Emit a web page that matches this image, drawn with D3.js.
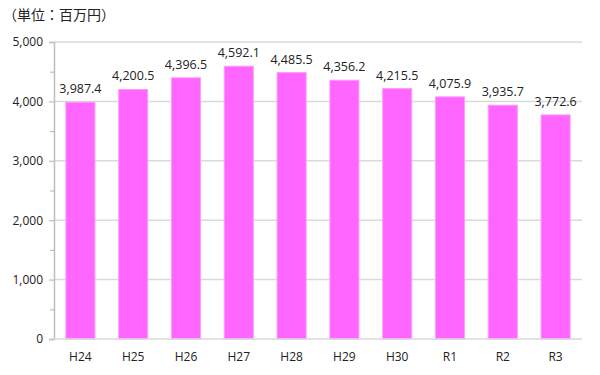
<!DOCTYPE html>
<html>
<head>
<meta charset="utf-8">
<script src="https://cdn.jsdelivr.net/npm/d3@7"></script>
<style>
  body { margin: 0; background: #fff; overflow: hidden; }
  svg { display: block; }
  text { font-family: "Open Sans", "Noto Sans CJK JP", sans-serif; fill: #222; }
</style>
</head>
<body>
<div id="chart"></div>
<script>
// chart data
const categories = ['H24', 'H25', 'H26', 'H27', 'H28', 'H29', 'H30', 'R1', 'R2', 'R3'];
const values = [3987.4, 4200.5, 4396.5, 4592.1, 4485.5, 4356.2, 4215.5, 4075.9, 3935.7, 3772.6];
const yTicks = [0, 1000, 2000, 3000, 4000, 5000];
const minorTicks = [500, 1500, 2500, 3500, 4500];
const unitLabel = '（単位：百万円）';

const width = 600; const height = 375;
const margin = {top: 42, right: 18, bottom: 36, left: 54};
const innerWidth = width - margin.left - margin.right;
const innerHeight = height - margin.top - margin.bottom;

let svg = d3.select('#chart')
    .append('svg')
        .attr('width', width)
        .attr('height', height);

svg.append('text')
    .attr('x', 3)
    .attr('y', 20)
    .attr('font-size', 14)
    .style('font-family', '"Noto Sans CJK JP", sans-serif')
    .text(unitLabel);

let plotG = svg.append('g')
    .attr('transform', `translate(${margin.left}, ${margin.top})`);

const x = d3.scaleBand()
    .domain(categories)
    .range([0, innerWidth])
    .paddingInner(0.45)
    .paddingOuter(0.225);

const y = d3.scaleLinear()
    .domain([0, 5000])
    .range([innerHeight, 0]);

// gridlines
plotG.append('g')
    .selectAll('line')
    .data(yTicks.filter(d => d > 0))
    .join('line')
        .attr('x1', 0)
        .attr('x2', innerWidth)
        .attr('y1', d => y(d))
        .attr('y2', d => y(d))
        .attr('stroke', '#d9d9d9')
        .attr('stroke-width', 1.5);

// minor ticks
plotG.append('g')
    .call(d3.axisLeft(y).tickValues(minorTicks).tickSize(4).tickFormat(''))
    .call(g => g.select('.domain').remove())
    .call(g => g.selectAll('.tick text').remove())
    .selectAll('.tick line').attr('stroke', '#bfbfbf').attr('stroke-width', 1.2);

// y axis
const yAxis = plotG.append('g')
    .call(d3.axisLeft(y).tickValues(yTicks).tickSize(5).tickFormat(d3.format(',')));
yAxis.select('.domain').attr('stroke', '#bfbfbf').attr('stroke-width', 1.5);
yAxis.selectAll('.tick line').attr('stroke', '#bfbfbf').attr('stroke-width', 1.2);
yAxis.selectAll('.tick text').attr('font-size', 12).attr('x', -11).attr('fill', '#222')
    .style('font-family', '"Open Sans", sans-serif');

// bars
plotG.append('g')
    .selectAll('rect')
    .data(values)
    .join('rect')
        .attr('x', (d, i) => x(categories[i]))
        .attr('y', d => y(d))
        .attr('width', x.bandwidth())
        .attr('height', d => innerHeight - y(d))
        .attr('fill', '#ff66ff')
        .attr('stroke', '#ff99ff')
        .attr('stroke-width', 1);

// value labels
plotG.append('g')
    .selectAll('text')
    .data(values)
    .join('text')
        .attr('x', (d, i) => x(categories[i]) + x.bandwidth() / 2)
        .attr('y', d => y(d) - 9)
        .attr('text-anchor', 'middle')
        .attr('font-size', 12.5)
        .text(d => d3.format(',.1f')(d));

// x axis
plotG.append('line')
    .attr('x1', 0).attr('x2', innerWidth)
    .attr('y1', innerHeight).attr('y2', innerHeight)
    .attr('stroke', '#d9d9d9')
    .attr('stroke-width', 1.5);

plotG.append('g')
    .selectAll('text')
    .data(categories)
    .join('text')
        .attr('x', d => x(d) + x.bandwidth() / 2)
        .attr('y', innerHeight + 22)
        .attr('text-anchor', 'middle')
        .attr('font-size', 12)
        .text(d => d);
</script>
</body>
</html>
